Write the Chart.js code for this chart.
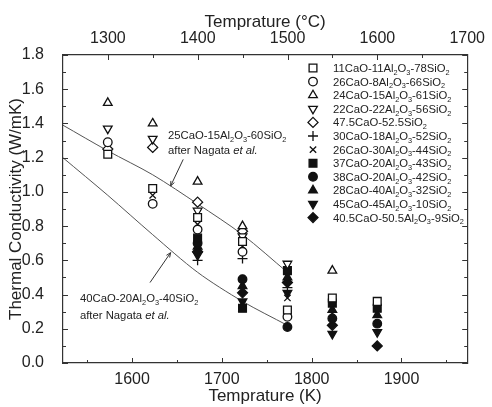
<!DOCTYPE html>
<html>
<head>
<meta charset="utf-8">
<script src="https://cdn.jsdelivr.net/npm/chart.js@4.4.1/dist/chart.umd.min.js"></script>
<style>
  html, body { margin: 0; padding: 0; background: #fff; }
  canvas { display: block; }
</style>
</head>
<body>
<canvas id="conductivityChart" width="492" height="407"></canvas>
<script>
/* ============================
   Data
============================ */
const temperaturesK = [1573, 1623, 1673, 1723, 1773, 1823, 1873];

const seriesLabels = [
    '11CaO-11Al₂O₃-78SiO₂',
    '26CaO-8Al₂O₃-66SiO₂',
    '24CaO-15Al₂O₃-61SiO₂',
    '22CaO-22Al₂O₃-56SiO₂',
    '47.5CaO-52.5SiO₂',
    '30CaO-18Al₂O₃-52SiO₂',
    '26CaO-30Al₂O₃-44SiO₂',
    '37CaO-20Al₂O₃-43SiO₂',
    '38CaO-20Al₂O₃-42SiO₂',
    '28CaO-40Al₂O₃-32SiO₂',
    '45CaO-45Al₂O₃-10SiO₂',
    '40.5CaO-50.5Al₂O₃-9SiO₂'
];

// thermal conductivity (W/mK) per composition, aligned with temperaturesK
const k11CaO   = [1.22, 1.02, 0.85, 0.71, 0.31, 0.38, 0.36];
const k26CaO8  = [1.29, 0.93, 0.78, 0.65, 0.27, null, null];
const k24CaO   = [1.52, 1.40, 1.06, 0.80, null, 0.54, null];
const k22CaO   = [1.37, 1.31, 0.89, 0.74, 0.58, null, null];
const k47CaO   = [1.25, 1.26, 0.94, 0.77, null, null, null];
const k30CaO   = [null, 1.26, 0.60, 0.61, 0.44, null, null];
const k26CaO30 = [null, 0.98, 0.81, 0.68, 0.38, 0.29, null];
const k37CaO   = [null, null, 0.73, 0.32, 0.54, 0.35, 0.32];
const k38CaO   = [null, null, 0.70, 0.49, 0.21, 0.26, 0.23];
const k28CaO   = [null, null, 0.68, 0.45, 0.50, 0.31, 0.28];
const k45CaO   = [null, null, 0.63, 0.36, 0.41, 0.17, 0.18];
const k40CaO   = [null, null, 0.65, 0.41, 0.47, 0.22, 0.10];

// Nagata et al. reference curves
const nagataTemps = [1523, 1573, 1623, 1673, 1723, 1773];
const nagata25CaO = [1.39, 1.24, 1.10, 0.93, 0.75, 0.53];
const nagata40CaO = [1.20, 0.98, 0.75, 0.53, 0.36, 0.22];

// axis ticks
const bottomTicksK = [1550, 1600, 1650, 1700, 1750, 1800, 1850, 1900, 1950];
const topTicksC = [1300, 1350, 1400, 1450, 1500, 1550, 1600, 1650, 1700];
const yTicks = [0, 0.1, 0.2, 0.3, 0.4, 0.5, 0.6, 0.7, 0.8, 0.9, 1.0, 1.1, 1.2, 1.3, 1.4, 1.5, 1.6, 1.7, 1.8];

/* ============================
   Styles
============================ */
const fontFamily = "'Liberation Sans', Arial, sans-serif";
const textColor = '#222222';
const axisColor = '#333333';
const noteSize = 11.3;

const seriesData = [k11CaO, k26CaO8, k24CaO, k22CaO, k47CaO, k30CaO, k26CaO30,
    k37CaO, k38CaO, k28CaO, k45CaO, k40CaO];

const markerStyles = [
    { pointStyle: 'rect', radius: 5.5, filled: false },
    { pointStyle: 'circle', radius: 4.3, filled: false },
    { pointStyle: 'triangle', radius: 5, filled: false },
    { pointStyle: 'triangle', radius: 5, filled: false, rotation: 180 },
    { pointStyle: 'rectRot', radius: 5, filled: false },
    { pointStyle: 'cross', radius: 5, filled: false },
    { pointStyle: 'crossRot', radius: 4.5, filled: false },
    { pointStyle: 'rect', radius: 5.5, filled: true },
    { pointStyle: 'circle', radius: 4.3, filled: true },
    { pointStyle: 'triangle', radius: 5, filled: true },
    { pointStyle: 'triangle', radius: 5, filled: true, rotation: 180 },
    { pointStyle: 'rectRot', radius: 5, filled: true }
];

const markerDatasets = seriesData.map((values, i) => {
    const st = markerStyles[i];
    return {
        label: seriesLabels[i],
        data: temperaturesK
            .map((t, j) => ({ x: t, y: values[j] }))
            .filter(p => p.y !== null),
        showLine: false,
        pointStyle: st.pointStyle,
        pointRadius: st.radius,
        pointRotation: st.rotation || 0,
        pointBackgroundColor: st.filled ? '#111' : '#fff',
        pointBorderColor: '#111',
        pointBorderWidth: 1.3,
        order: 1
    };
});

const lineDataset = (values, label) => ({
    label: label,
    data: nagataTemps.map((t, j) => ({ x: t, y: values[j] })),
    showLine: true,
    pointRadius: 0,
    borderColor: '#555',
    borderWidth: 1,
    tension: 0.3,
    order: 10
});

/* ============================
   Helpers
============================ */
// draws text with unicode subscript digits as lowered small digits
function drawRich(ctx, segments, x, y, size) {
    let cx = x;
    ctx.textBaseline = 'alphabetic';
    ctx.textAlign = 'left';
    segments.forEach(seg => {
        seg.text.split(/([\u2080-\u2089]+)/).forEach((part, i) => {
            if (!part) return;
            const sub = i % 2 === 1;
            const txt = sub
                ? part.replace(/[\u2080-\u2089]/g, c => String.fromCharCode(c.charCodeAt(0) - 0x2080 + 48))
                : part;
            const fs = sub ? size * 0.65 : size;
            ctx.font = (seg.italic ? 'italic ' : '') + fs + 'px ' + fontFamily;
            ctx.fillText(txt, cx, sub ? y + size * 0.25 : y);
            cx += ctx.measureText(txt).width;
        });
    });
}

function isMajorY(v) {
    return Math.round(v * 10) % 2 === 0;
}

/* ============================
   Plugins
============================ */
const insideTicks = {
    id: 'insideTicks',
    afterDraw(chart) {
        const { ctx, chartArea: a, scales } = chart;
        ctx.save();
        ctx.strokeStyle = axisColor;
        ctx.lineWidth = 1;
        ctx.beginPath();
        scales.x.ticks.forEach(t => {
            const px = Math.round(scales.x.getPixelForValue(t.value)) + 0.5;
            const len = t.value % 100 === 0 ? 5 : 3;
            ctx.moveTo(px, a.bottom);
            ctx.lineTo(px, a.bottom - len);
        });
        scales.xTop.ticks.forEach(t => {
            const px = Math.round(scales.xTop.getPixelForValue(t.value)) + 0.5;
            const len = t.value % 100 === 0 ? 5 : 3;
            ctx.moveTo(px, a.top);
            ctx.lineTo(px, a.top + len);
        });
        scales.y.ticks.forEach(t => {
            const py = Math.round(scales.y.getPixelForValue(t.value)) + 0.5;
            const len = isMajorY(t.value) ? 5 : 3;
            ctx.moveTo(a.left, py);
            ctx.lineTo(a.left + len, py);
            ctx.moveTo(a.right, py);
            ctx.lineTo(a.right - len, py);
        });
        ctx.stroke();
        ctx.restore();
    }
};

const legendBox = {
    id: 'legendBox',
    afterDraw(chart) {
        const { ctx, chartArea: a } = chart;
        ctx.save();
        seriesLabels.forEach((label, i) => {
            const st = markerStyles[i];
            const y = a.top + 13 + i * 13.6;
            ctx.fillStyle = st.filled ? '#111' : '#fff';
            ctx.strokeStyle = '#111';
            ctx.lineWidth = 1.3;
            Chart.helpers.drawPoint(ctx, {
                pointStyle: st.pointStyle,
                radius: st.radius,
                rotation: st.rotation || 0,
                borderWidth: 1.3
            }, a.left + 250, y);
            ctx.fillStyle = textColor;
            drawRich(ctx, [{ text: label }], a.left + 270, y + 4, noteSize);
        });
        ctx.restore();
    }
};

// annotation texts for the Nagata curves, placed in data units
const nagataNotes = [
    { lines: ['25CaO-15Al₂O₃-60SiO₂', 'after Nagata '], at: [1640, 1.31, 1.22], arrow: [1657, 1.19, 1643, 1.035] },
    { lines: ['40CaO-20Al₂O₃-40SiO₂', 'after Nagata '], at: [1542, 0.355, 0.257], arrow: [1620, 0.47, 1643, 0.645] }
];

const notesPlugin = {
    id: 'notesPlugin',
    afterDatasetsDraw(chart) {
        const { ctx, scales: { x, y } } = chart;
        ctx.save();
        ctx.fillStyle = textColor;
        nagataNotes.forEach(n => {
            const px = x.getPixelForValue(n.at[0]);
            drawRich(ctx, [{ text: n.lines[0] }], px, y.getPixelForValue(n.at[1]), noteSize);
            drawRich(ctx, [{ text: n.lines[1] }, { text: 'et al.', italic: true }], px, y.getPixelForValue(n.at[2]), noteSize);

            const x1 = x.getPixelForValue(n.arrow[0]), y1 = y.getPixelForValue(n.arrow[1]);
            const x2 = x.getPixelForValue(n.arrow[2]), y2 = y.getPixelForValue(n.arrow[3]);
            const ang = Math.atan2(y2 - y1, x2 - x1);
            ctx.strokeStyle = '#333';
            ctx.lineWidth = 1;
            ctx.beginPath();
            ctx.moveTo(x1, y1);
            ctx.lineTo(x2, y2);
            ctx.moveTo(x2, y2);
            ctx.lineTo(x2 - 5 * Math.cos(ang - 0.4), y2 - 5 * Math.sin(ang - 0.4));
            ctx.moveTo(x2, y2);
            ctx.lineTo(x2 - 5 * Math.cos(ang + 0.4), y2 - 5 * Math.sin(ang + 0.4));
            ctx.stroke();
        });
        ctx.restore();
    }
};

/* ============================
   Chart
============================ */
const tickFont = { family: fontFamily, size: 16 };
const titleFont = { family: fontFamily, size: 17 };
const border = { display: true, color: axisColor, width: 1.2 };

new Chart(document.getElementById('conductivityChart').getContext('2d'), {
    type: 'scatter',
    data: {
        datasets: [
            lineDataset(nagata25CaO, '25CaO-15Al₂O₃-60SiO₂ (Nagata)'),
            lineDataset(nagata40CaO, '40CaO-20Al₂O₃-40SiO₂ (Nagata)'),
            ...markerDatasets
        ]
    },
    options: {
        responsive: false,
        animation: false,
        layout: { padding: 0 },
        plugins: {
            legend: { display: false },
            tooltip: { enabled: false }
        },
        scales: {
            x: {
                type: 'linear',
                position: 'bottom',
                min: 1523.15,
                max: 1973.15,
                grid: { display: false, drawTicks: false },
                border: border,
                afterBuildTicks: s => { s.ticks = bottomTicksK.map(v => ({ value: v })); },
                afterFit: s => { s.height = 44; },
                ticks: {
                    autoSkip: false,
                    maxRotation: 0,
                    padding: 7,
                    color: textColor,
                    font: tickFont,
                    callback: v => (v % 100 === 0 ? String(v) : '')
                },
                title: {
                    display: true,
                    text: 'Temprature (K)',
                    color: textColor,
                    font: titleFont,
                    padding: { top: 0, bottom: 0 }
                }
            },
            xTop: {
                type: 'linear',
                position: 'top',
                min: 1250,
                max: 1700,
                grid: { display: false, drawTicks: false },
                border: border,
                afterBuildTicks: s => { s.ticks = topTicksC.map(v => ({ value: v })); },
                afterFit: s => { s.height = 55; },
                ticks: {
                    autoSkip: false,
                    maxRotation: 0,
                    padding: 7,
                    color: textColor,
                    font: tickFont,
                    callback: v => (v % 100 === 0 ? String(v) : '')
                },
                title: {
                    display: true,
                    text: 'Temprature (°C)',
                    color: textColor,
                    font: titleFont,
                    padding: { top: 12, bottom: 0 }
                }
            },
            y: {
                position: 'left',
                min: 0,
                max: 1.8,
                grid: { display: false, drawTicks: false },
                border: border,
                afterBuildTicks: s => { s.ticks = yTicks.map(v => ({ value: v })); },
                afterFit: s => { s.width = 63; },
                ticks: {
                    autoSkip: false,
                    padding: 19,
                    color: textColor,
                    font: tickFont,
                    callback: v => (isMajorY(v) ? v.toFixed(1) : '')
                },
                title: {
                    display: true,
                    text: 'Thermal Conductivity (W/mK)',
                    color: textColor,
                    font: titleFont,
                    padding: { top: 6, bottom: 0 }
                }
            },
            yRight: {
                position: 'right',
                min: 0,
                max: 1.8,
                grid: { display: false, drawTicks: false },
                border: border,
                afterBuildTicks: s => { s.ticks = yTicks.map(v => ({ value: v })); },
                afterFit: s => { s.width = 24; },
                ticks: { display: false }
            }
        }
    },
    plugins: [insideTicks, legendBox, notesPlugin]
});
</script>
</body>
</html>
